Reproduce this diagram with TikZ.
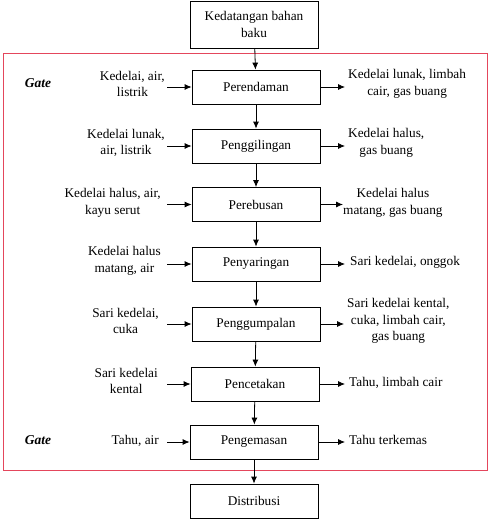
\documentclass[tikz,border=0pt]{standalone}
\usepackage{fontspec}
\setmainfont{Liberation Serif}
\usetikzlibrary{arrows.meta}
\definecolor{gatered}{RGB}{228,70,92}

\begin{document}
\begin{tikzpicture}[x=1pt,y=-1pt,
  proc/.style={draw,line width=0.8pt,minimum width=128pt,minimum height=34pt,align=center,font=\fontsize{13.3}{16.5}\selectfont},
  lbl/.style={align=center,inner sep=0pt,font=\fontsize{13.3}{16.5}\selectfont},
  gate/.style={font=\fontsize{13.5}{16}\selectfont\bfseries\itshape},
  arr/.style={-{Latex[length=7pt,width=6pt]},line width=0.8pt}]
\useasboundingbox (0,0) rectangle (492,519);
\draw[gatered, line width=1pt] (3,54) rectangle (487,470);
% main line
\node[proc,minimum height=47pt] (start) at (254,24.5) {Kedatangan bahan\\baku};
\node[proc] (p1) at (256,87) {Perendaman};
\node[proc] (p2) at (256,146) {Penggilingan};
\node[proc] (p3) at (256,204.5) {Perebusan};
\node[proc] (p4) at (256,264) {Penyaringan};
\node[proc] (p5) at (256,324) {Penggumpalan};
\node[proc] (p6) at (255,384) {Pencetakan};
\node[proc] (p7) at (254,442) {Pengemasan};
\node[proc] (end) at (254,501) {Distribusi};
% inputs
\node[lbl,anchor=east] (in1) at (165,84) {Kedelai, air,\\listrik};
\node[lbl,anchor=east] (in2) at (165,143) {Kedelai lunak,\\air, listrik};
\node[lbl,anchor=east] (in3) at (161,203) {Kedelai halus, air,\\kayu serut};
\node[lbl,anchor=east] (in4) at (161,261) {Kedelai halus\\matang, air};
\node[lbl,anchor=east] (in5) at (159,321) {Sari kedelai,\\cuka};
\node[lbl,anchor=east] (in6) at (158,381) {Sari kedelai\\kental};
\node[lbl,anchor=east] (in7) at (159,441) {Tahu, air};
% outputs
\node[lbl,anchor=west] (out1) at (348,84) {Kedelai lunak, limbah\\cair, gas buang};
\node[lbl,anchor=west] (out2) at (348,143) {Kedelai halus,\\gas buang};
\node[lbl,anchor=west] (out3) at (343,203) {Kedelai halus\\matang, gas buang};
\node[lbl,anchor=west] (out4) at (350,262) {Sari kedelai, onggok};
\node[lbl,anchor=west] (out5) at (347,321) {Sari kedelai kental,\\cuka, limbah cair,\\gas buang};
\node[lbl,anchor=west] (out6) at (349,383) {Tahu, limbah cair};
\node[lbl,anchor=west] (out7) at (349,440) {Tahu terkemas};
% gate
\node[gate] (gate1) at (38,83) {Gate};
\node[gate] (gate2) at (38,440) {Gate};
% flow
\draw[arr] (start) -- (p1);
\draw[arr] (p1) -- (p2);
\draw[arr] (p2) -- (p3);
\draw[arr] (p3) -- (p4);
\draw[arr] (p4) -- (p5);
\draw[arr] (p5) -- (p6);
\draw[arr] (p6) -- (p7);
\draw[arr] (p7) -- (end);
\draw[arr] ([xshift=2pt]in1.east |- p1) -- (p1);
\draw[arr] ([xshift=2pt]in2.east |- p2) -- (p2);
\draw[arr] ([xshift=6pt]in3.east |- p3) -- (p3);
\draw[arr] ([xshift=6pt]in4.east |- p4) -- (p4);
\draw[arr] ([xshift=8pt]in5.east |- p5) -- (p5);
\draw[arr] ([xshift=9pt]in6.east |- p6) -- (p6);
\draw[arr] ([xshift=8pt]in7.east |- p7) -- (p7);
\draw[arr] (p1) -- ([xshift=-3pt]out1.west |- p1);
\draw[arr] (p2) -- ([xshift=-3pt]out2.west |- p2);
\draw[arr] (p3) -- ([xshift=0pt]out3.west |- p3);
\draw[arr] (p4) -- ([xshift=-5pt]out4.west |- p4);
\draw[arr] (p5) -- ([xshift=-3pt]out5.west |- p5);
\draw[arr] (p6) -- ([xshift=-4pt]out6.west |- p6);
\draw[arr] (p7) -- ([xshift=-4pt]out7.west |- p7);
\end{tikzpicture}
\end{document}
